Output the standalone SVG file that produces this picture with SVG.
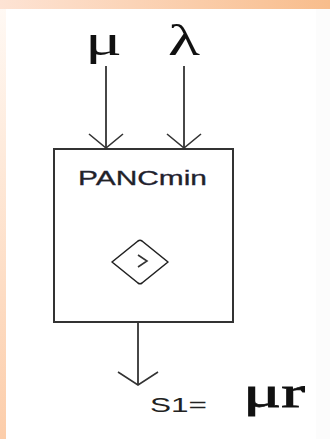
<svg xmlns="http://www.w3.org/2000/svg" width="330" height="439" viewBox="0 0 330 439">
  <defs>
    <linearGradient id="gTop" x1="0" y1="0" x2="1" y2="0">
      <stop offset="0" stop-color="#fde3d4"/>
      <stop offset="1" stop-color="#f8bd8c"/>
    </linearGradient>
    <linearGradient id="gLeft" x1="0" y1="0" x2="0" y2="1">
      <stop offset="0" stop-color="#fff9f4"/>
      <stop offset="1" stop-color="#fccdaa"/>
    </linearGradient>
    <marker id="headIn" markerUnits="userSpaceOnUse" markerWidth="40" markerHeight="40" refX="0" refY="0" viewBox="-20 -20 40 40" orient="auto" overflow="visible">
      <path d="M -14,-17 L 0,0 L -14,17" fill="none" stroke="#333" stroke-width="1.6"/>
    </marker>
    <marker id="headOut" markerUnits="userSpaceOnUse" markerWidth="40" markerHeight="50" refX="0" refY="0" viewBox="-20 -25 40 50" orient="auto" overflow="visible">
      <path d="M -13,-20 L 0,0 L -13,20" fill="none" stroke="#333" stroke-width="1.6"/>
    </marker>
    <style>
      .conn { stroke: #333; stroke-width: 1.8; fill: none; }
      .greek { font-family: "Liberation Serif", "DejaVu Serif", serif; font-size: 44px; fill: #111; }
      .sans { font-family: "Liberation Sans", Arial, sans-serif; fill: #222; }
      .box { fill: #fff; stroke: #333; stroke-width: 2; }
    </style>
  </defs>

  <rect x="0" y="0" width="330" height="439" fill="#fff"/>
  <rect x="316" y="9" width="14" height="430" fill="#fcfcfc"/>
  <rect x="0" y="0" width="330" height="9" fill="url(#gTop)"/>
  <rect x="0" y="9" width="6" height="430" fill="url(#gLeft)"/>

  <g id="label-mu">
    <text class="greek" x="85" y="55" textLength="37" lengthAdjust="spacingAndGlyphs">μ</text>
  </g>
  <g id="label-lambda">
    <text class="greek" x="168" y="55" textLength="32" lengthAdjust="spacingAndGlyphs">λ</text>
  </g>

  <g id="node-PANCmin">
    <rect class="box" x="54" y="149" width="179" height="173"/>
    <text class="sans" x="78" y="185" font-size="20" textLength="129" lengthAdjust="spacingAndGlyphs" fill="#23234a" stroke="#23234a" stroke-width="0.3">PANCmin</text>
    <path d="M 112,262 L 138,241 Q 140,239.5 142,241 L 168,262 L 142,283 Q 140,284.5 138,283 Z" fill="none" stroke="#222" stroke-width="1.6" stroke-linejoin="round"/>
    <path d="M 138,255 L 147,261 L 138,267" fill="none" stroke="#333" stroke-width="1.6"/>
  </g>

  <g id="label-output">
    <text class="sans" x="150" y="412" font-size="21" textLength="57" lengthAdjust="spacingAndGlyphs">S1=</text>
    <text class="greek" x="243" y="407" textLength="62" lengthAdjust="spacingAndGlyphs" stroke="#111" stroke-width="0.8">μr</text>
  </g>

  <g id="connectors">
    <line class="conn" x1="106" y1="66" x2="106" y2="148" marker-end="url(#headIn)"/>
    <line class="conn" x1="184" y1="66" x2="184" y2="148" marker-end="url(#headIn)"/>
    <line class="conn" x1="138" y1="323" x2="138" y2="385" marker-end="url(#headOut)"/>
  </g>
</svg>
